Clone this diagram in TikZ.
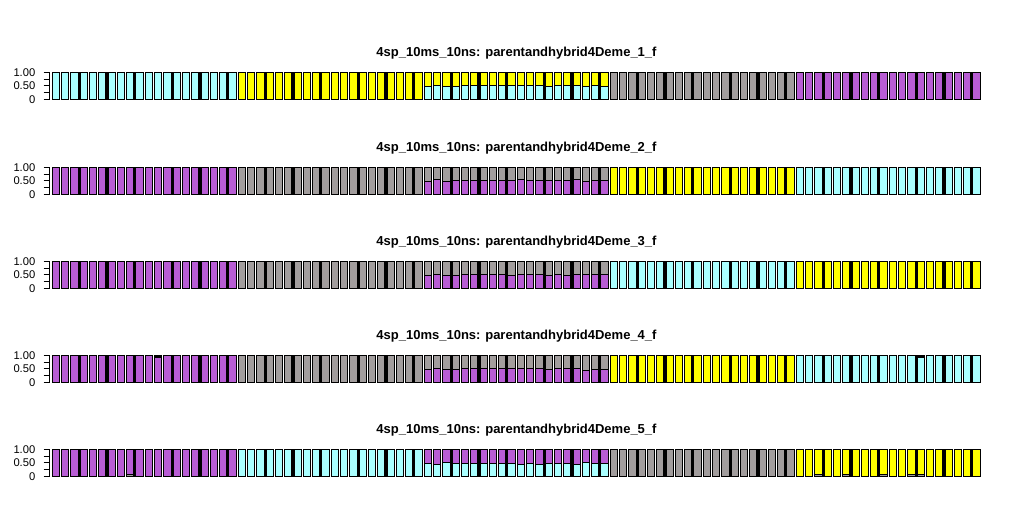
\documentclass[tikz,border=0pt]{standalone}
\usepackage{fontspec}
\setmainfont{Liberation Sans}
\definecolor{cy}{RGB}{170,255,255}
\definecolor{ye}{RGB}{255,255,0}
\definecolor{gr}{RGB}{162,157,157}
\definecolor{pu}{RGB}{184,93,212}
\tikzset{
  bar/.style={draw=black,line width=1.2pt},
  ttl/.style={font=\fontsize{13}{15}\selectfont\bfseries,inner sep=0pt},
  ylab/.style={font=\fontsize{11.2}{13}\selectfont,anchor=east,inner sep=0pt},
  axisline/.style={line width=1pt}
}
% solid group: top, group index, colour
\newcommand\sgroup[3]{%
  \foreach \j in {0,...,19}{%
    \pgfmathsetmacro\xl{52.1+9.3*(20*#2+\j)}%
    \draw[bar,fill=#3] (\xl,-#1) rectangle ++(7.4,-27);}}
% hybrid group: top, bottom colour, top colour, boundary list
\newcommand\hgroup[4]{%
  \foreach \b [count=\j from 0] in {#4}{%
    \pgfmathsetmacro\xl{52.1+9.3*(40+\j)}%
    \pgfmathsetmacro\hh{27*(102-\b)/80}%
    \pgfmathsetmacro\yb{-#1-27}%
    \pgfmathsetmacro\ym{-#1-27+\hh}%
    \draw[bar,fill=#2] (\xl,\yb) rectangle (\xl+7.4,\ym);
    \draw[bar,fill=#3] (\xl,\ym) rectangle (\xl+7.4,-#1);}}
% axis + title: top, panel number
\newcommand\paxis[2]{%
  \draw[axisline] (49.5,-#1) -- (49.5,-#1-27);
  \foreach \t in {0,0.25,0.5,0.75,1}{\draw[axisline] (43.5,-#1-27*\t) -- (49.5,-#1-27*\t);}
  \node[ylab] (a#2) at (35.5,-#1) {1.00};
  \node[ylab] (b#2) at (35.5,-#1-13.5) {0.50};
  \node[ylab] (c#2) at (35.5,-#1-27) {0};
  \node[ttl] (t#2) at (516.5,-#1+19.5) {4sp\_10ms\_10ns: parentandhybrid4Deme\_#2\_f};}
\begin{document}
\begin{tikzpicture}[x=1pt,y=1pt]
\useasboundingbox[fill=white] (0,0) rectangle (1028,-529);
% panel 1
\paxis{72.3}{1}
\sgroup{72.3}{0}{cy}\sgroup{72.3}{1}{ye}
\hgroup{72.3}{cy}{ye}{63,61,63,64,62,61,62,62,61,62,62,61,61,63,61,61,61,63,61,63}
\sgroup{72.3}{3}{gr}\sgroup{72.3}{4}{pu}
% panel 2
\paxis{167.3}{2}
\sgroup{167.3}{0}{pu}\sgroup{167.3}{1}{gr}
\hgroup{167.3}{pu}{gr}{64,58,64,62,62,62,62,62,62,62,58,62,62,62,62,62,58,64,62,62}
\sgroup{167.3}{3}{ye}\sgroup{167.3}{4}{cy}
% panel 3
\paxis{261.3}{3}
\sgroup{261.3}{0}{pu}\sgroup{261.3}{1}{gr}
\hgroup{261.3}{pu}{gr}{64,62,64,64,62,62,62,62,62,64,62,62,62,64,62,64,62,62,62,62}
\sgroup{261.3}{3}{cy}\sgroup{261.3}{4}{ye}
% panel 4
\paxis{355.3}{4}
\sgroup{355.3}{0}{pu}\sgroup{355.3}{1}{gr}
\hgroup{355.3}{pu}{gr}{64,62,64,64,62,62,62,62,62,62,60,62,60,64,60,62,60,66,64,64}
\sgroup{355.3}{3}{ye}\sgroup{355.3}{4}{cy}
\draw[bar,fill=gr] (52.1+9.3*11,-355.3) rectangle ++(7.4,-1.6);
\draw[bar,fill=pu] (52.1+9.3*93,-355.3) rectangle ++(7.4,-1.6);
% panel 5
\paxis{449.3}{5}
\sgroup{449.3}{0}{pu}\sgroup{449.3}{1}{cy}
\hgroup{449.3}{cy}{pu}{64,67,60,64,64,64,64,64,64,64,66,64,66,64,64,64,67,60,64,64}
\sgroup{449.3}{3}{gr}\sgroup{449.3}{4}{ye}
\foreach \k in {8,82,85,89,92,93}{\draw[bar,fill=gr] (52.1+9.3*\k,-476.3) rectangle ++(7.4,1.6);}
\end{tikzpicture}
\end{document}
